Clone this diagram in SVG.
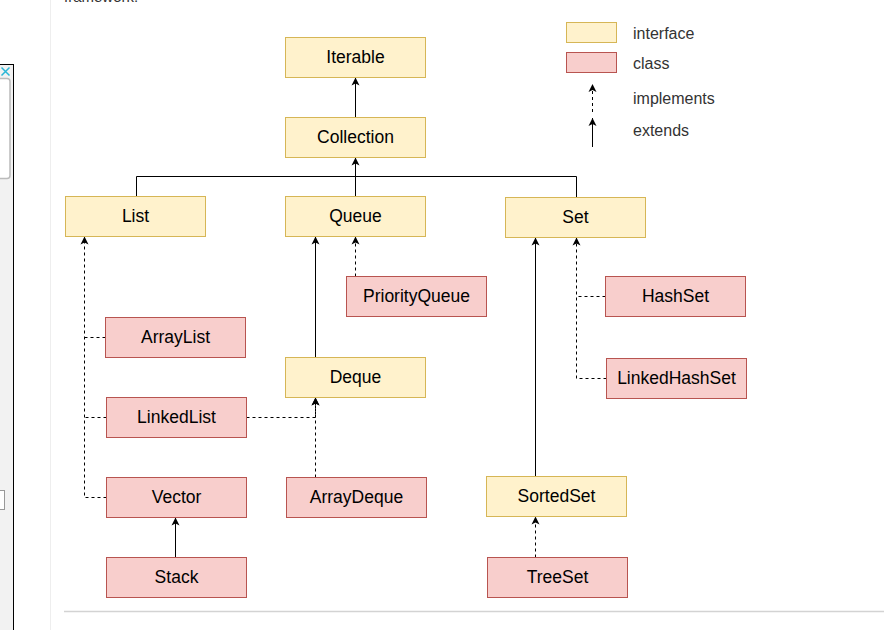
<svg xmlns="http://www.w3.org/2000/svg" width="884" height="630" viewBox="0 0 884 630">
  <defs>
    <marker id="arrow" markerUnits="userSpaceOnUse" markerWidth="10" markerHeight="10" viewBox="0 0 10 8" refX="8" refY="4" orient="auto">
      <path d="M0,0 L8,4 L0,8 L2,4 Z" fill="#000"/>
    </marker>
    <style>
      .iface rect { fill: #fff2cc; stroke: #d6b656; stroke-width: 1; }
      .cls rect { fill: #f8cecc; stroke: #b85450; stroke-width: 1; }
      .node text { font-family: "Liberation Sans", Arial, Helvetica, sans-serif; font-size: 17.5px; fill: #000; text-anchor: middle; }
      .legend text { font-family: "Liberation Sans", Arial, Helvetica, sans-serif; font-size: 16px; fill: #333; }
      .solid { fill: none; stroke: #000; stroke-width: 1; }
      .dash { fill: none; stroke: #000; stroke-width: 1; stroke-dasharray: 3 3; }
      .arr { marker-end: url(#arrow); }
    </style>
  </defs>

  <!-- page surroundings -->
  <rect x="0" y="0" width="884" height="630" fill="#fff"/>
  <line x1="50.5" y1="0" x2="50.5" y2="630" stroke="#eeeeee" stroke-width="1"/>
  <rect x="-2" y="64.5" width="15.5" height="570" fill="#f2f2f2" stroke="#000" stroke-width="1"/>
  <rect x="-6" y="78.5" width="16" height="100" rx="3" fill="#fff" stroke="#bbbbbb" stroke-width="1.5"/>
  <path d="M1.5,67.5 L9.5,75.5 M9.5,67.5 L1.5,75.5" stroke="#29b6d6" stroke-width="1.5" fill="none"/>
  <rect x="-2" y="490.5" width="6.5" height="19" fill="#fff" stroke="#999" stroke-width="1"/>
  <text x="64" y="2" font-family="'Liberation Sans', Arial, sans-serif" font-size="15px" fill="#333">framework.</text>
  <line x1="64" y1="611.5" x2="884" y2="611.5" stroke="#d3d3d3" stroke-width="1.5"/>

  <!-- legend -->
  <g id="legend" class="legend">
    <rect x="566.5" y="22.5" width="50" height="20" fill="#fff2cc" stroke="#d6b656"/>
    <rect x="566.5" y="52.5" width="50" height="20" fill="#f8cecc" stroke="#b85450"/>
    <path class="dash arr" d="M592.5,112 V84"/>
    <path class="solid arr" d="M592.5,147 V118"/>
    <text x="633" y="39">interface</text>
    <text x="633" y="69">class</text>
    <text x="633" y="104">implements</text>
    <text x="633" y="136">extends</text>
  </g>

  <!-- connectors -->
  <g id="connectors">
    <path class="solid arr" d="M355.5,117.5 V77.5"/>
    <path class="solid" d="M136.5,196.5 V176.5 H576.5 V197.5"/>
    <path class="solid arr" d="M355.5,196.5 V157.5"/>
    <path class="solid arr" d="M315.5,357.5 V236.5"/>
    <path class="dash arr" d="M355.5,276.5 V236.5"/>
    <path class="dash" d="M105.5,337.5 H84.5"/>
    <path class="dash" d="M106.5,417.5 H84.5"/>
    <path class="dash arr" d="M106.5,497.5 H84.5 V236.5"/>
    <path class="dash arr" d="M246.5,417.5 H315.5 V397.5"/>
    <path class="dash arr" d="M315.5,477.5 V397.5"/>
    <path class="solid arr" d="M175.5,557.5 V517.5"/>
    <path class="solid arr" d="M535.5,476.5 V237.5"/>
    <path class="dash" d="M605.5,296.5 H576.5"/>
    <path class="dash arr" d="M606.5,378.5 H576.5 V237.5"/>
    <path class="dash arr" d="M535.5,557.5 V516.5"/>
  </g>

  <!-- interfaces -->
  <g id="Iterable" class="node iface"><rect x="285.5" y="37.5" width="140" height="40"/><text x="355.5" y="62.5">Iterable</text></g>
  <g id="Collection" class="node iface"><rect x="285.5" y="117.5" width="140" height="40"/><text x="355.5" y="142.5">Collection</text></g>
  <g id="List" class="node iface"><rect x="65.5" y="196.5" width="140" height="40"/><text x="135.5" y="221.5">List</text></g>
  <g id="Queue" class="node iface"><rect x="285.5" y="196.5" width="140" height="40"/><text x="355.5" y="221.5">Queue</text></g>
  <g id="Set" class="node iface"><rect x="505.5" y="197.5" width="140" height="40"/><text x="575.5" y="222.5">Set</text></g>
  <g id="Deque" class="node iface"><rect x="285.5" y="357.5" width="140" height="40"/><text x="355.5" y="382.5">Deque</text></g>
  <g id="SortedSet" class="node iface"><rect x="486.5" y="476.5" width="140" height="40"/><text x="556.5" y="501.5">SortedSet</text></g>

  <!-- classes -->
  <g id="PriorityQueue" class="node cls"><rect x="346.5" y="276.5" width="140" height="40"/><text x="416.5" y="301.5">PriorityQueue</text></g>
  <g id="ArrayList" class="node cls"><rect x="105.5" y="317.5" width="140" height="40"/><text x="175.5" y="342.5">ArrayList</text></g>
  <g id="LinkedList" class="node cls"><rect x="106.5" y="397.5" width="140" height="40"/><text x="176.5" y="422.5">LinkedList</text></g>
  <g id="Vector" class="node cls"><rect x="106.5" y="477.5" width="140" height="40"/><text x="176.5" y="502.5">Vector</text></g>
  <g id="Stack" class="node cls"><rect x="106.5" y="557.5" width="140" height="40"/><text x="176.5" y="582.5">Stack</text></g>
  <g id="ArrayDeque" class="node cls"><rect x="286.5" y="477.5" width="140" height="40"/><text x="356.5" y="502.5">ArrayDeque</text></g>
  <g id="HashSet" class="node cls"><rect x="605.5" y="276.5" width="140" height="40"/><text x="675.5" y="301.5">HashSet</text></g>
  <g id="LinkedHashSet" class="node cls"><rect x="606.5" y="358.5" width="140" height="40"/><text x="676.5" y="383.5">LinkedHashSet</text></g>
  <g id="TreeSet" class="node cls"><rect x="487.5" y="557.5" width="140" height="40"/><text x="557.5" y="582.5">TreeSet</text></g>
</svg>
